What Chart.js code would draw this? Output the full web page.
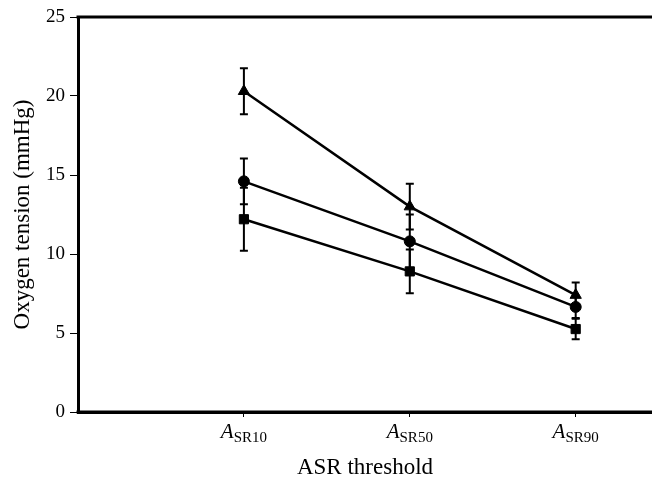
<!DOCTYPE html>
<html>
<head>
<meta charset="utf-8">
<script src="https://cdn.jsdelivr.net/npm/chart.js@4/dist/chart.umd.min.js"></script>
<style>
html,body{margin:0;padding:0;background:#fff;}
#wrap{width:652px;height:479px;position:relative;}
</style>
</head>
<body>
<div id="wrap"><canvas id="c" width="652" height="479"></canvas></div>
<script>
// Categories (ASR thresholds): italic "A" with subscript
const catMain = ['A', 'A', 'A'];
const catSub = ['SR10', 'SR50', 'SR90'];
const catPos = [1, 2, 3];

// Series values (mmHg) and error half-widths
const triangleVals = [20.3, 13.0, 7.4];
const triangleErr = [1.45, 1.45, 0.8];
const circleVals = [14.6, 10.8, 6.65];
const circleErr = [1.45, 1.7, 0.7];
const squareVals = [12.2, 8.9, 5.25];
const squareErr = [2.0, 1.38, 0.65];

// Y tick labels
const yTicks = [0, 5, 10, 15, 20, 25];

const FONT = '"Liberation Serif", "Times New Roman", serif';

function pts(vals){ return vals.map((v,i)=>({x:catPos[i], y:v})); }

const errorBars = {
  id:'errorBars',
  beforeDatasetsDraw(chart){
    const ctx = chart.ctx, ys = chart.scales.y, xs = chart.scales.x;
    ctx.save();
    ctx.strokeStyle = '#000';
    ctx.lineWidth = 2;
    chart.data.datasets.forEach(ds=>{
      ds.data.forEach((p,i)=>{
        const e = ds.errors[i];
        const x = xs.getPixelForValue(p.x);
        const y1 = ys.getPixelForValue(p.y + e);
        const y2 = ys.getPixelForValue(p.y - e);
        ctx.beginPath();
        ctx.moveTo(x, y1); ctx.lineTo(x, y2);
        ctx.moveTo(x-4, y1); ctx.lineTo(x+4, y1);
        ctx.moveTo(x-4, y2); ctx.lineTo(x+4, y2);
        ctx.stroke();
      });
    });
    ctx.restore();
  }
};

const frame = {
  id:'frame',
  afterDraw(chart){
    const ctx = chart.ctx, a = chart.chartArea, xs = chart.scales.x;
    ctx.save();
    ctx.strokeStyle = '#000';
    ctx.lineWidth = 3;
    ctx.beginPath();
    ctx.moveTo(a.left - 1.5, a.top);
    ctx.lineTo(chart.width, a.top);
    ctx.moveTo(a.left - 1.5, a.bottom);
    ctx.lineTo(chart.width, a.bottom);
    ctx.stroke();
    // category labels: italic A with subscript
    ctx.fillStyle = '#000';
    ctx.textBaseline = 'alphabetic';
    catPos.forEach((v,i)=>{
      const x = xs.getPixelForValue(v);
      ctx.font = 'italic 21px ' + FONT;
      const w1 = ctx.measureText(catMain[i]).width;
      ctx.font = '15px ' + FONT;
      const w2 = ctx.measureText(catSub[i]).width;
      const x0 = x - (w1 + w2)/2;
      ctx.font = 'italic 21px ' + FONT;
      ctx.fillText(catMain[i], x0, 438);
      ctx.font = '15px ' + FONT;
      ctx.fillText(catSub[i], x0 + w1, 442);
    });
    ctx.restore();
  }
};

const common = {
  borderColor:'#000', backgroundColor:'#000', borderWidth:2.5,
  pointBorderColor:'#000', pointBackgroundColor:'#000', pointBorderWidth:1,
  showLine:true, tension:0, fill:false
};

new Chart(document.getElementById('c'), {
  type:'scatter',
  data:{
    datasets:[
      Object.assign({label:'triangle', data:pts(triangleVals), errors:triangleErr, pointStyle:'triangle', pointRadius:6.5}, common),
      Object.assign({label:'circle', data:pts(circleVals), errors:circleErr, pointStyle:'circle', pointRadius:5.5}, common),
      Object.assign({label:'square', data:pts(squareVals), errors:squareErr, pointStyle:'rect', pointRadius:6.5}, common)
    ]
  },
  options:{
    responsive:false,
    animation:false,
    devicePixelRatio:1,
    layout:{autoPadding:false, padding:{top:17, right:0, left:0, bottom:0}},
    plugins:{legend:{display:false}, tooltip:{enabled:false}},
    scales:{
      x:{
        type:'linear', min:0, max:3.46,
        afterBuildTicks(s){ s.ticks = catPos.map(v=>({value:v})); },
        afterFit(s){ s.height = 67; },
        ticks:{display:true, callback:()=> '', font:{size:1}},
        grid:{drawOnChartArea:false, drawTicks:true, tickLength:5, tickColor:'#000', tickWidth:1},
        border:{display:true, color:'#000', width:3},
        title:{display:true, text:'ASR threshold', color:'#000', font:{family:FONT, size:23, lineHeight:1.0}, padding:{top:0,bottom:0}}
      },
      y:{
        min:0, max:25,
        afterBuildTicks(s){ s.ticks = yTicks.map(v=>({value:v})); },
        afterFit(s){ s.width = 78; },
        ticks:{color:'#000', font:{family:FONT, size:19}, padding:5},
        grid:{drawOnChartArea:false, drawTicks:true, tickLength:8, tickColor:'#000', tickWidth:1},
        border:{display:true, color:'#000', width:3},
        title:{display:true, text:'Oxygen tension (mmHg)', color:'#000', font:{family:FONT, size:23}, padding:{top:9,bottom:0}}
      }
    }
  },
  plugins:[errorBars, frame]
});
</script>
</body>
</html>
